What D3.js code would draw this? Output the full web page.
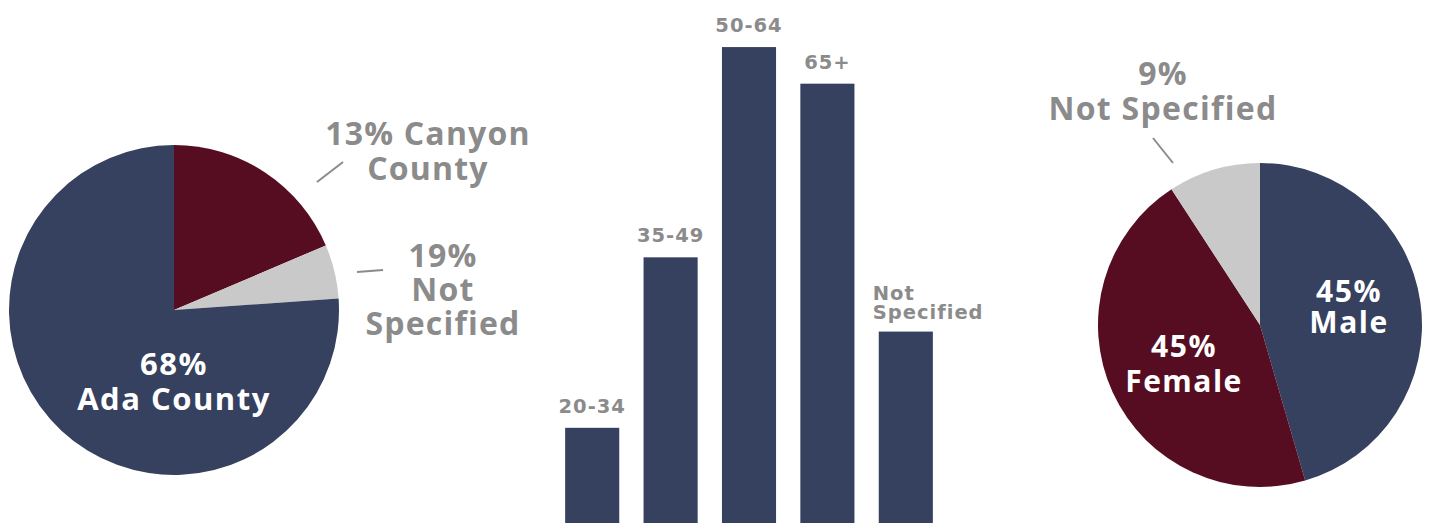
<!DOCTYPE html>
<html>
<head>
<meta charset="utf-8">
<script src="https://cdn.jsdelivr.net/npm/d3@7"></script>
<style>
  body { margin: 0; background: #fff; }
  .plabel { font-family: "Open Sans", sans-serif; font-weight: 700; }
  .blabel { font-family: "DejaVu Sans", Verdana, sans-serif; font-weight: 700; fill: #8b8b8b; letter-spacing: 1px; }
</style>
</head>
<body>
<script>
// slice shares as drawn
const countyNames = ['Canyon County', 'Not Specified', 'Ada County'];
const countyShares = [18.6, 5.3, 76.1];
const countyColors = ['#560d22', '#c9c9c9', '#36405f'];

const ageGroups = ['20-34', '35-49', '50-64', '65+', 'Not Specified'];
const ageValues = [9.1, 25.4, 45.5, 42.0, 18.3];

const genderNames = ['Male', 'Female', 'Not Specified'];
const genderShares = [45.5, 45.3, 9.2];
const genderColors = ['#36405f', '#560d22', '#c9c9c9'];

var W = 1430, H = 523;
var grey = '#8b8b8b';

var svg = d3.select('body').append('svg')
  .attr('width', W)
  .attr('height', H);

var pie = d3.pie().sort(null).value(d => d);

function drawPie(cx, cy, r, values, colors) {
  var g = svg.append('g').attr('transform', 'translate(' + cx + ',' + cy + ')');
  var arc = d3.arc().innerRadius(0).outerRadius(r);
  g.selectAll('path')
    .data(pie(values))
    .enter()
    .append('path')
    .attr('d', arc)
    .attr('fill', (d, i) => colors[i]);
  return g;
}

// lines: array of strings, x centre, first baseline, line height
function label(g, lines, x, y, lh, color, size, ls) {
  var t = g.append('text')
    .attr('class', 'plabel')
    .attr('text-anchor', 'middle')
    .style('font-size', size + 'px')
    .style('letter-spacing', ls + 'px')
    .style('fill', color);
  lines.forEach((l, i) => {
    t.append('tspan').attr('x', x).attr('y', y + i * lh).text(l);
  });
}

function leader(g, x1, y1, x2, y2) {
  g.append('line')
    .attr('x1', x1).attr('y1', y1).attr('x2', x2).attr('y2', y2)
    .style('stroke', grey)
    .style('stroke-width', 2);
}

// ---- left pie: county
var lp = drawPie(174, 310, 165, countyShares, countyColors);
label(lp, ['68%', 'Ada County'], 0, 65, 35, '#fff', 31, 1.5);
label(lp, ['13% Canyon', 'County'], 254, -165, 35, grey, 32, 1.2);
leader(lp, 143, -128, 169, -148);
label(lp, ['19%', 'Not', 'Specified'], 269, -43, 34, grey, 32, 1.2);
leader(lp, 183, -38, 209, -40);

// ---- bar chart: age
var x = d3.scaleBand()
  .domain(ageGroups)
  .range([553, 945])
  .paddingInner(0.31)
  .paddingOuter(0.155);

var y = d3.scaleLinear()
  .domain([0, 50])
  .range([H, 0]);

var bars = svg.append('g');
bars.selectAll('rect')
  .data(ageValues)
  .enter()
  .append('rect')
  .attr('x', (d, i) => x(ageGroups[i]))
  .attr('y', d => y(d))
  .attr('width', x.bandwidth())
  .attr('height', d => H - y(d))
  .attr('fill', '#36405f');

bars.selectAll('text')
  .data(ageValues)
  .enter()
  .append('text')
  .attr('class', 'blabel')
  .style('font-size', '19.5px')
  .each(function(d, i) {
    var t = d3.select(this);
    var name = ageGroups[i];
    if (name == 'Not Specified') {
      t.attr('text-anchor', 'start');
      name.split(' ').forEach((w, j) => {
        t.append('tspan')
          .attr('x', x(name) - 6)
          .attr('y', y(d) - 32 + j * 19)
          .text(w);
      });
    } else {
      t.attr('text-anchor', 'middle')
        .attr('x', x(name) + x.bandwidth() / 2)
        .attr('y', y(d) - 15)
        .text(name);
    }
  });

// ---- right pie: gender
var rp = drawPie(1260, 325, 162, genderShares, genderColors);
label(rp, ['45%', 'Male'], 89, -23, 31, '#fff', 30, 1.5);
label(rp, ['45%', 'Female'], -76, 32, 35, '#fff', 30, 1.5);
label(rp, ['9%', 'Not Specified'], -97, -240, 35, grey, 32, 1.3);
leader(rp, -107, -187, -87, -162);
</script>
</body>
</html>
